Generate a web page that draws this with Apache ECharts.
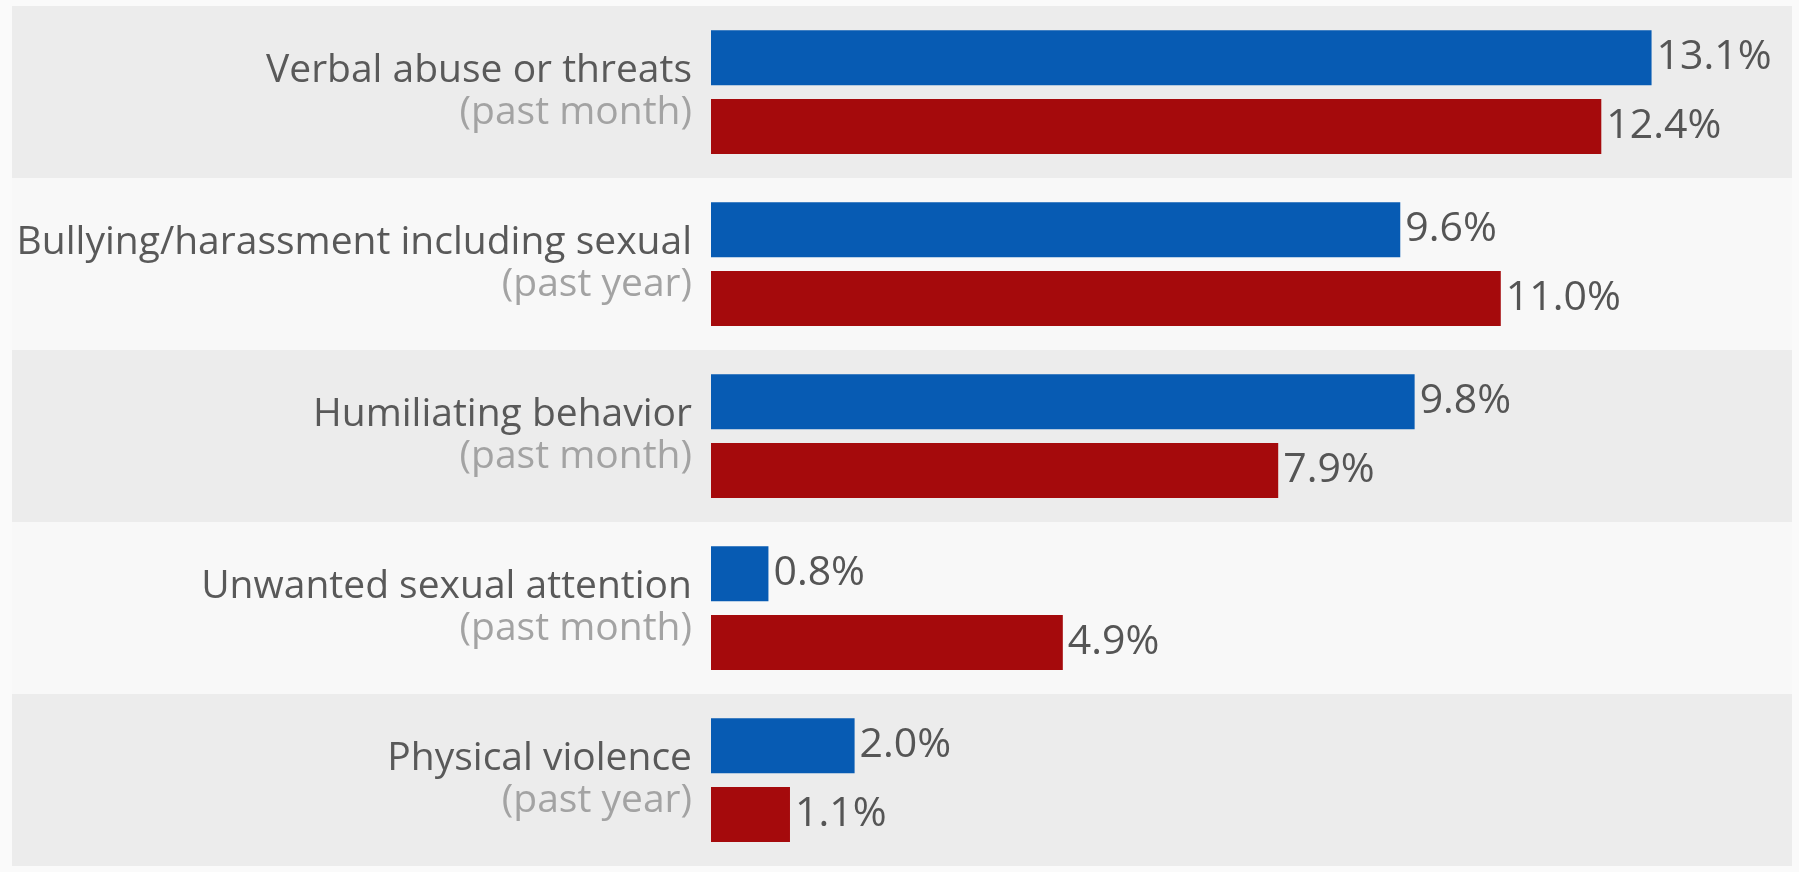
<!DOCTYPE html>
<html>
<head>
<meta charset="utf-8">
<script src="https://cdn.jsdelivr.net/npm/echarts@6/dist/echarts.min.js"></script>
<style>
  html, body { margin: 0; padding: 0; background: #fafafa; }
  #chart { width: 1799px; height: 872px; }
</style>
</head>
<body>
<div id="chart"></div>
<script>
// data
const categories = [
  'Verbal abuse or threats',
  'Bullying/harassment including sexual',
  'Humiliating behavior',
  'Unwanted sexual attention',
  'Physical violence'
];
const periods = ['(past month)', '(past year)', '(past month)', '(past month)', '(past year)'];
const blueValues = [13.1, 9.6, 9.8, 0.8, 2.0];
const redValues = [12.4, 11.0, 7.9, 4.9, 1.1];

const myChart = echarts.init(document.getElementById('chart'));

const labelStyle = {
  show: true,
  position: 'right',
  distance: 5,
  color: '#555555',
  fontFamily: 'Open Sans',
  fontSize: 41,
  formatter: (p) => p.value.toFixed(1) + '%'
};

const option = {
  backgroundColor: '#fafafa',
  animation: false,
  grid: [
    // full-width grid only for the alternating row bands
    { left: 12, right: 7, top: 6, bottom: 6, outerBoundsMode: 'none', z: -1 },
    // grid holding the bars
    { left: 711, right: 7, top: 6, bottom: 6, outerBoundsMode: 'none' }
  ],
  xAxis: [
    { type: 'value', gridIndex: 0, min: 0, max: 1, show: false },
    { type: 'value', gridIndex: 1, min: 0, max: 15.056, show: false }
  ],
  yAxis: [
    {
      type: 'category',
      gridIndex: 0,
      inverse: true,
      data: categories,
      z: -1,
      axisLine: { show: false },
      axisTick: { show: false },
      axisLabel: { show: false },
      splitLine: { show: false },
      splitArea: {
        show: true,
        areaStyle: { color: ['#ececec', '#f8f8f8'] }
      }
    },
    {
      type: 'category',
      gridIndex: 1,
      inverse: true,
      data: categories,
      axisLine: { show: false },
      axisTick: { show: false },
      splitLine: { show: false },
      axisLabel: {
        margin: 19,
        formatter: (value, idx) => '{a|' + value + '}\n{b|' + periods[idx] + '}',
        rich: {
          a: {
            fontFamily: 'Open Sans',
            fontSize: 39,
            lineHeight: 42,
            color: '#595959',
            align: 'right'
          },
          b: {
            fontFamily: 'Open Sans',
            fontSize: 39,
            lineHeight: 42,
            color: '#a3a3a3',
            align: 'right'
          }
        }
      }
    }
  ],
  series: [
    {
      type: 'bar',
      xAxisIndex: 1,
      yAxisIndex: 1,
      data: blueValues,
      barWidth: 55,
      barGap: '25%',
      itemStyle: { color: '#075bb3' },
      label: labelStyle
    },
    {
      type: 'bar',
      xAxisIndex: 1,
      yAxisIndex: 1,
      data: redValues,
      barWidth: 55,
      barGap: '25%',
      itemStyle: { color: '#a50a0c' },
      label: labelStyle
    }
  ]
};

myChart.setOption(option, true);
window.addEventListener('resize', () => {
  myChart.resize();
});
</script>
</body>
</html>
